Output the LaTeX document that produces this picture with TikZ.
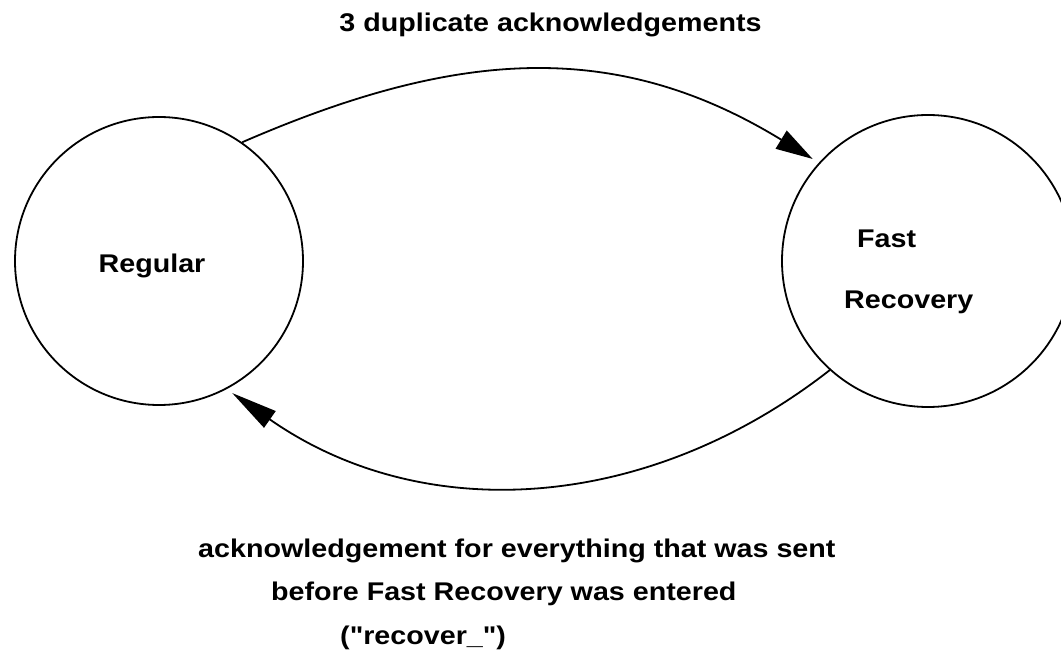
\documentclass[tikz,border=0pt]{standalone}
\usepackage{fontspec}
\usepackage{tikz}
\usetikzlibrary{arrows.meta,calc}
\newfontfamily\labfont{Liberation Sans}[FakeStretch=1.12]
\definecolor{ink}{HTML}{000000}
\definecolor{paper}{HTML}{FFFFFF}
\tikzset{
  state/.style={draw=ink, line width=1.8pt, circle, inner sep=0pt},
  trans/.style={draw=ink, line width=1.8pt},
  lab/.style={text=ink, inner sep=0pt, font=\labfont\bfseries\fontsize{25.6}{30}\selectfont}
}

\begin{document}
\begin{tikzpicture}[x=1pt, y=1pt]
  \useasboundingbox (0,0) rectangle (1061,665);
  \fill[paper] (0,0) rectangle (1061,665);

  % the two states
  \node[state, minimum size=288pt] (reg) at (159,404) {};
  \node[state, minimum size=292pt] (fr) at (928,404) {};
  \node[lab, anchor=base] (regtxt) at (152,392) {Regular};
  \node[lab, anchor=base west] (fasttxt) at (857,417) {Fast};
  \node[lab, anchor=base west] (rectxt) at (844,356) {Recovery};

  % arrow tips stop just outside the circles
  \coordinate (frin) at ($(fr.center)+(138.5:154)$);
  \coordinate (regin) at ($(reg.center)+(299:151)$);

  \draw[trans, -{Triangle[length=37pt, width=21pt]}]
    (reg.55) .. controls +(23.5:232) and +(148.5:232) .. (frin);
  \draw[trans, -{Triangle[length=46pt, width=20pt]}]
    (fr.228) .. controls +(218:232) and +(325:232) .. (regin);

  % labels
  \node[lab, anchor=base] (dupack) at (550.5,633) {3 duplicate acknowledgements};
  \node[lab, anchor=base west] (ack1) at (198,108) {acknowledgement for everything that was sent};
  \node[lab, anchor=base west] (ack2) at (271,65) {before Fast Recovery was entered};
  \node[lab, anchor=base west] (ack3) at (340,21) {("recover\_")};
\end{tikzpicture}
\end{document}
